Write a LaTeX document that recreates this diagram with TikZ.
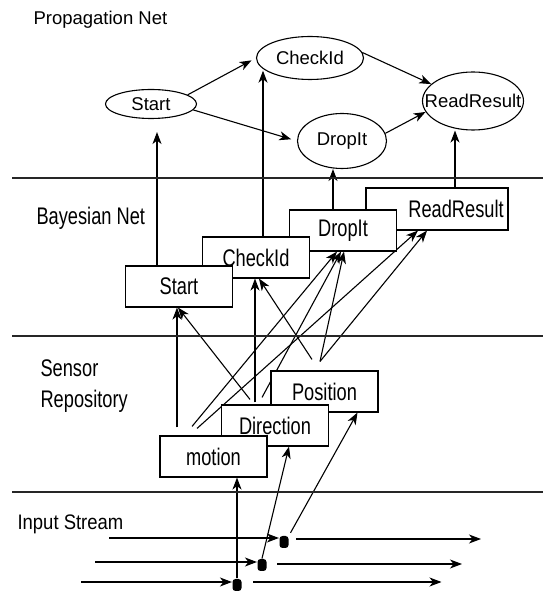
\documentclass[tikz,border=0pt]{standalone}
\usepackage{fontspec}
\setmainfont{Liberation Sans}
\newfontfamily\tallsans{Liberation Sans}[FakeStretch=0.76]
\newfontfamily\midsans{Liberation Sans}[FakeStretch=0.88]
\usetikzlibrary{shapes.geometric, arrows.meta, backgrounds}
\tikzset{
    state/.style={draw, ellipse, inner xsep=-15pt, inner ysep=0pt, font=\fontsize{18.5}{22}\selectfont},
    var/.style={draw, fill=white, rectangle, minimum width=107pt, minimum height=41pt, inner sep=0pt, font=\tallsans\fontsize{24}{28}\selectfont},
    token/.style={fill, rectangle, rounded corners=3pt, minimum width=9pt, minimum height=12pt, inner sep=0pt},
    layer/.style={line width=2.6pt, draw=black!85},
    title/.style={anchor=base west, inner sep=0pt},
    arrow/.style={line width=1.1pt, -{Stealth[length=12pt, width=9pt, inset=3.5pt]}}
}

\begin{document}
\begin{tikzpicture}[x=1pt, y=1pt, line width=1.1pt]
\useasboundingbox (0,0) rectangle (543,592);

% layers
\draw[layer] (12,414) -- (543,414);
\draw[layer] (12,256) -- (543,256);
\draw[layer] (12,100) -- (543,100);

\node[title, font=\fontsize{18.5}{22}\selectfont] (tprop) at (33,567) {Propagation Net};
\node[title, font=\tallsans\fontsize{24}{28}\selectfont] (tbayes) at (36,367) {Bayesian Net};
\node[anchor=west, inner sep=0pt, align=left, font=\tallsans\fontsize{24}{31.5}\selectfont] (tsensor) at (40,206) {Sensor\\Repository};
\node[title, font=\midsans\fontsize{21}{25}\selectfont] (tinput) at (17,62) {Input Stream};

% propagation net
\node[state, minimum width=91pt, minimum height=29pt] (pstart) at (151,488) {Start};
\node[state, minimum width=107pt, minimum height=43pt] (pcheck) at (310,534) {CheckId};
\node[state, minimum width=89pt, minimum height=55pt] (pdrop) at (342,451) {DropIt};
\node[state, minimum width=101pt, minimum height=58pt] (pread) at (473,491) {ReadResult};
\draw[arrow, shorten >=5pt] (pstart.14) -- (pcheck.west);
\draw[arrow, shorten >=6pt] (pstart.-8) -- (pdrop.west);
\draw[arrow] (pcheck.6) -- (pread.158);
\draw[arrow] (pdrop.10) -- (pread.193);

% bayesian net
\node[var, minimum width=142pt, minimum height=42pt] (bread) at (437,383) {\hspace*{38pt}ReadResult};
\node[var] (bdrop) at (343,361.5) {DropIt};
\node[var] (bcheck) at (256,334.5) {CheckId};
\node[var] (bstart) at (179,305.5) {Start};

% sensor repository
\node[var] (sposition) at (324.5,200.5) {Position};
\node[var] (sdirection) at (275,166.5) {Direction};
\node[var] (smotion) at (213.5,135.5) {motion};

% input stream
\node[token] (tok1) at (237,7) {};
\node[token] (tok2) at (262,27) {};
\node[token] (tok3) at (284,50) {};
\coordinate (in1) at (81,10);
\coordinate (in2) at (95,30);
\coordinate (in3) at (109,54);
\coordinate (out1) at (441.5,10);
\coordinate (out2) at (462,28);
\coordinate (out3) at (481,53);
\draw[arrow] (in1) -- (in1 -| tok1.west);
\draw[arrow] (in2) -- (in2 -| tok2.west);
\draw[arrow] (in3) -- (in3 -| tok3.west);
\draw[arrow, shorten <=11pt] (tok1.east |- out1) -- (out1);
\draw[arrow, shorten <=10pt] (tok2.east |- out2) -- (out2);
\draw[arrow, shorten <=7pt] (tok3.east |- out3) -- (out3);

\begin{scope}[on background layer]
% stream to sensors
\draw[arrow] (tok1.north) -- (tok1.north |- smotion.south);
\draw[arrow] (tok2.north) -- ([xshift=14pt]sdirection.south);
\draw[arrow, shorten <=3pt] (tok3.north east) -- ([xshift=33pt]sposition.south);
% sensors to bayesian net
\draw[arrow] ([xshift=-36.5pt, yshift=8pt]smotion.north) -- ([xshift=-2pt]bstart.south);
\draw[arrow] ([xshift=-21.5pt, yshift=9pt]smotion.north) -- ([xshift=-6pt]bdrop.south);
\draw[arrow] ([xshift=-16.5pt, yshift=7pt]smotion.north) -- ([xshift=-19pt]bread.south);
\draw[arrow] ([xshift=-25pt, yshift=5pt]sdirection.north) -- ([xshift=-1pt]bstart.south);
\draw[arrow] ([xshift=-20pt, yshift=2pt]sdirection.north) -- ([xshift=-1pt]bcheck.south);
\draw[arrow] ([xshift=-13pt, yshift=7pt]sdirection.north) -- ([xshift=-2pt]bdrop.south);
\draw[arrow] ([xshift=-12.5pt, yshift=11pt]sposition.north) -- ([xshift=3pt]bcheck.south);
\draw[arrow] ([xshift=-4.5pt, yshift=9pt]sposition.north) -- ([xshift=1pt]bdrop.south);
\draw[arrow] ([xshift=-4.5pt, yshift=9pt]sposition.north) -- ([xshift=-10pt]bread.south);
% bayesian net to propagation net
\draw[arrow, shorten >=13pt] ([xshift=-22pt]bstart.north) -- ([xshift=-22pt]bstart.north |- pstart.south);
\draw[arrow] ([xshift=7pt]bcheck.north) -- ([xshift=7pt]bcheck.north |- pcheck.196);
\draw[arrow] ([xshift=-10pt]bdrop.north) -- ([xshift=-10pt]bdrop.north |- pdrop.south);
\draw[arrow] ([xshift=18pt]bread.north) -- ([xshift=18pt]bread.north |- pread.south);
\end{scope}
\end{tikzpicture}
\end{document}
